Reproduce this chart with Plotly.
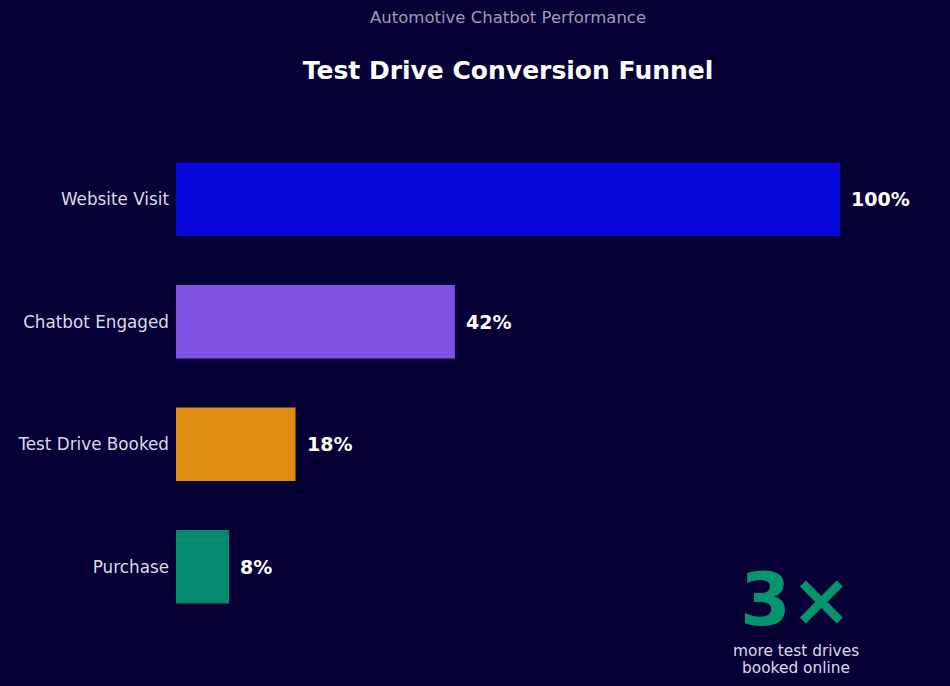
import plotly.graph_objects as go

STAGES = ["Website Visit", "Chatbot Engaged", "Test Drive Booked", "Purchase"]
PCT = [100, 42, 18, 8]
BAR_COLORS = ["#0707DA", "#7E52E0", "#DD8E11", "#04896A"]
CAPTION = ["more test drives", "booked online"]
BG = "#060036"
FONT = "DejaVu Sans"

fig = go.Figure()
fig.add_trace(go.Bar(
    y=STAGES, x=PCT, orientation="h",
    marker=dict(color=BAR_COLORS, line=dict(width=0)),
    width=0.6, hoverinfo="skip", showlegend=False,
))

# value labels just right of each bar
for stage, v in zip(STAGES, PCT):
    fig.add_annotation(x=v, y=stage, text=f"<b>{v}%</b>", showarrow=False,
                       xanchor="left", xshift=9,
                       font=dict(family=FONT, size=19, color="white"))

fig.add_annotation(xref="paper", yref="paper", x=0.5, y=1.0, yshift=121,
                   yanchor="middle", text="Automotive Chatbot Performance",
                   showarrow=False, font=dict(family=FONT, size=16.5, color="#A09CB4"))

# callout in the lower right
fig.add_annotation(xref="paper", yref="paper", x=0.934, y=0.058,
                   xanchor="center", yanchor="middle",
                   text="<b>3×</b>", showarrow=False,
                   font=dict(family=FONT, size=73, color="#05956C"))
for line, yy in zip(CAPTION, [-0.047, -0.082]):
    fig.add_annotation(xref="paper", yref="paper", x=0.934, y=yy,
                       xanchor="center", yanchor="middle",
                       text=line, showarrow=False,
                       font=dict(family=FONT, size=15.4, color="#DCDAE8"))

fig.update_layout(
    width=950, height=686,
    paper_bgcolor=BG, plot_bgcolor=BG,
    margin=dict(l=176, r=110, t=138, b=58),
    title=dict(text="<b>Test Drive Conversion Funnel</b>", x=0.5, xref="paper",
               y=1 - 70 / 686, yref="container", yanchor="middle",
               font=dict(family=FONT, size=25, color="white")),
    xaxis=dict(range=[0, 100], visible=False, fixedrange=True),
    yaxis=dict(autorange="reversed", showgrid=False, zeroline=False, showline=False,
               ticks="", ticklabelstandoff=6, fixedrange=True,
               tickfont=dict(family=FONT, size=16.8, color="#DCDAE8")),
    font=dict(family=FONT),
)

fig.write_html("out.html", config={"displayModeBar": False},
               post_script="document.body.style.margin='0';")
